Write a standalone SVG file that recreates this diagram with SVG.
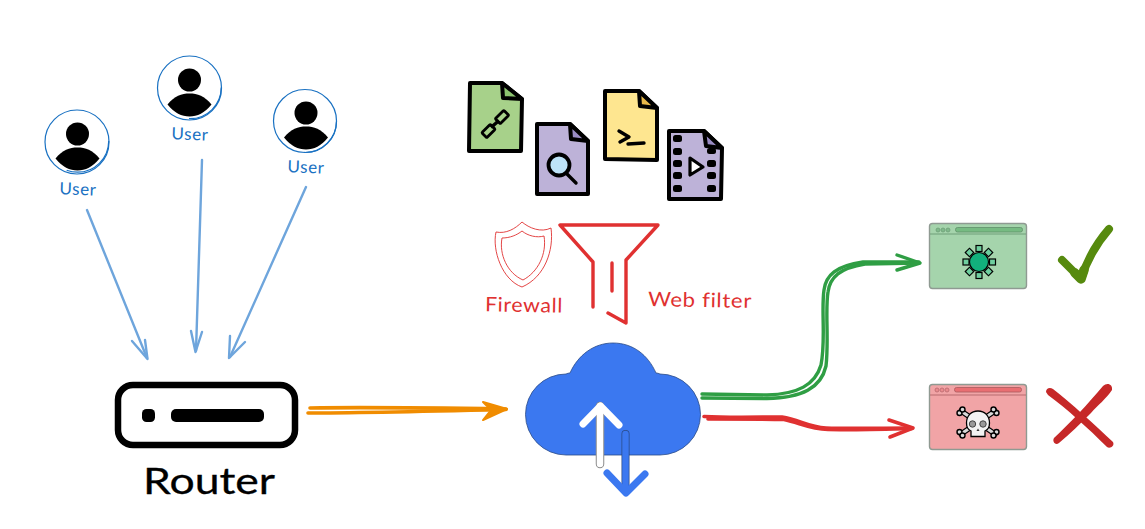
<svg xmlns="http://www.w3.org/2000/svg" width="1145" height="529" viewBox="0 0 1145 529">
<style>
text{font-family:"Lato","Noto Sans",sans-serif;text-anchor:middle}
.ul{fill:#1971c2;font-size:17px;letter-spacing:.6px}
.rl{fill:#e03131;font-size:20px;letter-spacing:.6px}
.ring{fill:none;stroke:#1971c2;stroke-width:1.2}
.k{fill:#000}
.doc{stroke:#000;stroke-width:4;stroke-linejoin:round;stroke-linecap:round}
.ink{fill:none;stroke:#000;stroke-width:3.4;stroke-linecap:round;stroke-linejoin:round}
.blue{fill:none;stroke:#6ea5dc;stroke-width:2.4;stroke-linecap:round;stroke-linejoin:round}
.org{fill:none;stroke:#f08c00;stroke-linecap:round;stroke-linejoin:round}
.grn{fill:none;stroke:#2f9e44;stroke-width:3.4;stroke-linecap:round;stroke-linejoin:round}
.red{fill:none;stroke:#e03131;stroke-width:3.6;stroke-linecap:round;stroke-linejoin:round}
.fun{fill:none;stroke:#e03131;stroke-width:3.4;stroke-linecap:round;stroke-linejoin:round}
.shd{fill:none;stroke:#e03131;stroke-width:.9;stroke-linejoin:round}
.win{stroke:#8f9a92;stroke-width:1.4}
.hole{fill:#000}
.sq{fill:#6fcf9f;stroke:#000;stroke-width:1.2}
.bone{fill:#d9d9d9;stroke:#000;stroke-width:1.4;stroke-linecap:round}
</style>
<defs>
<g id="person">
<circle class="k" cx="0" cy="-8" r="11.5"/>
<path class="k" d="M-22 16.500 C-15 8 -8 5.500 0 5.500 C8 5.500 15 8 22 16.500 C15 25 8 28.500 0 28.500 C-8 28.500 -15 25 -22 16.500Z"/>
</g>
</defs>

<g id="connectors">
<g id="user1-router"><path class="blue" d="M87 210 L147 358"/><path class="blue" d="M132 341 L147.500 359 L145 340"/></g>
<g id="user2-router"><path class="blue" d="M202 160 L196 351"/><path class="blue" d="M191 331 L195.500 352 L202 332"/></g>
<g id="user3-router"><path class="blue" d="M306 187 L230 357"/><path class="blue" d="M230 336 L229 358 L245 342"/></g>
<g id="router-cloud">
<path class="org" stroke-width="3.600" d="M310 408 C370 407 440 408 506 409"/>
<path class="org" stroke-width="3.600" d="M308 413 C345 413 400 412 506 409.500"/>
<path d="M483 402 L507 409 L483 420 L491 410Z" fill="#f08c00" stroke="#f08c00" stroke-width="2" stroke-linejoin="round"/>
</g>
<g id="cloud-allowed">
<path class="grn" d="M702 394 L767 395 C798 394 815 385 821 365 C826 340 821 310 824 290 C826 275 836 266 863 262 L919 262"/>
<path class="grn" d="M702 398 L767 398.500 C802 398 821 388 826 366 C829 340 825 310 828 292 C830 277 840 268 865 264 L919 263"/>
<path class="grn" stroke-width="3.600" d="M897 255 L920 263 L897 270"/>
</g>
<g id="cloud-blocked">
<path class="red" d="M704 416.500 C730 418 760 417 782 417 C800 420 808 427 826 428 C850 429 885 428 912 428"/>
<path class="red" stroke-width="2.800" d="M708 419 C730 419 765 419 784 419.500 C800 423 810 429 828 429.500 C850 430 885 429 912 428.500"/>
<path class="red" d="M889 420 L913 428 L890 437"/>
</g>
</g>

<g id="user1">
<circle class="ring" cx="77" cy="142" r="32"/><circle class="ring" cx="77.500" cy="141" r="31.200" stroke-dasharray="60 140"/>
<use href="#person" x="77.500" y="142"/>
<text class="ul" x="78" y="195" transform="rotate(2 78 189)">User</text>
</g>
<g id="user2">
<circle class="ring" cx="189.500" cy="88" r="32"/><circle class="ring" cx="190" cy="87.500" r="31.200" stroke-dasharray="50 150"/>
<use href="#person" x="189.500" y="88"/>
<text class="ul" x="190" y="140" transform="rotate(2 190 134)">User</text>
</g>
<g id="user3">
<circle class="ring" cx="305" cy="121" r="31.500"/><circle class="ring" cx="305.500" cy="121.500" r="31" stroke-dasharray="50 150"/>
<use href="#person" x="306" y="121"/>
<text class="ul" x="306" y="173" transform="rotate(2 306 167)">User</text>
</g>

<g id="router">
<rect x="118" y="385" width="177" height="60" rx="15" fill="#fff" stroke="#000" stroke-width="6.500"/>
<rect x="142" y="409" width="13" height="13" rx="4.500" fill="#000"/>
<rect x="171" y="409" width="93" height="13" rx="5" fill="#000"/>
<text x="209" y="494" font-size="36" fill="#000" textLength="132" lengthAdjust="spacingAndGlyphs" stroke="#000" stroke-width=".3">Router</text>
</g>

<g id="file-link">
<path class="doc" fill="#a7d18a" d="M470 83 L502 83 L522 99 L521 151 L469 151Z"/>
<path class="doc" fill="#8cc46f" stroke-width="3" d="M502 83 L503 98 L522 99Z"/>
<g fill="none" stroke="#000" stroke-width="2.800" stroke-linejoin="round">
<rect x="482.500" y="127.500" width="12" height="7" rx="1" transform="rotate(-45 488.500 131)"/>
<rect x="496" y="113.500" width="12" height="7" rx="1" transform="rotate(-45 502 117)"/>
<path d="M491 127.500 L499 120.500" stroke-width="3.400"/>
</g>
</g>
<g id="file-search">
<path class="doc" fill="#bdb2d8" d="M537 124 L570 124 L588 141 L588 194 L537 194Z"/>
<path class="doc" fill="#9a8cc4" stroke-width="3" d="M570 124 L571 139 L588 141Z"/>
<path class="ink" stroke-width="5" d="M566 173 L576 183"/>
<circle cx="559" cy="165" r="10.500" fill="#bde3f7" stroke="#000" stroke-width="3.800"/>
</g>
<g id="file-terminal">
<path class="doc" fill="#fee690" d="M605 91 L639 91 L657 108 L657 160 L605 159Z"/>
<path class="doc" fill="#e7b84a" stroke-width="3" d="M639 91 L640 106 L657 108Z"/>
<path class="ink" stroke-width="2.400" d="M619 131 L629 137 L620 142 M628 144 L644 143"/>
</g>
<g id="file-video">
<path class="doc" fill="#bdb2d8" d="M669 131 L704 131 L722 148 L721 199 L669 199Z"/>
<path class="doc" fill="#9a8cc4" stroke-width="3" d="M704 131 L706 146 L722 148Z"/>
<g class="hole">
<rect x="673" y="135" width="9" height="7" rx="2.500"/><rect x="673" y="148" width="9" height="7" rx="2.500"/><rect x="673" y="160" width="9" height="7" rx="2.500"/><rect x="673" y="172" width="9" height="7" rx="2.500"/><rect x="673" y="185" width="9" height="7" rx="2.500"/>
<rect x="707" y="148" width="9" height="6" rx="2.500"/><rect x="707" y="160" width="9" height="7" rx="2.500"/><rect x="707" y="172" width="9" height="7" rx="2.500"/><rect x="707" y="185" width="9" height="7" rx="2.500"/>
</g>
<path d="M690 158 L703 167 L690 175Z" fill="#fff" stroke="#000" stroke-width="3.200" stroke-linejoin="round"/>
</g>

<g id="firewall">
<path class="shd" d="M522 222 C529 228 541 233 551 228 C554 250 545 277 522 287 C502 280 492 250 496 232 C506 234 515 229 522 222Z"/>
<path class="shd" d="M522 231 C528 236 537 238 544 236 C547 254 538 272 523 280 C507 273 499 254 502 238 C510 238 517 235 522 231Z"/>
<text class="rl" x="524" y="312" transform="rotate(1 524 305)" textLength="78" lengthAdjust="spacingAndGlyphs">Firewall</text>
</g>
<g id="web-filter">
<path class="fun" d="M593 307 L593 262 L560 225 L658 225 L626 260 L626 323 L608 313 M612 263 L612 291"/>
<text class="rl" x="700" y="307" transform="rotate(1 700 300)" textLength="104" lengthAdjust="spacingAndGlyphs">Web filter</text>
</g>

<g id="cloud">
<path fill="#3b78f0" stroke="#2a4a86" stroke-width=".8" d="M566 455 A40.500 40.500 0 0 1 566 374 Q568 373 570 373 C578 355 594 343 613 343 C633 343 648 355 656 373 Q658 373 660 374 A40.500 40.500 0 0 1 660 455Z"/>
<path d="M600 406 L600 464" stroke="#8a8a8a" stroke-width="8.500" stroke-linecap="round" fill="none"/>
<path d="M600 406 L600 464" stroke="#fff" stroke-width="6.500" stroke-linecap="round" fill="none"/>
<path d="M583 424 L600.500 406 L619 425" stroke="#fff" stroke-width="7" stroke-linecap="round" stroke-linejoin="round" fill="none"/>
<path d="M625.500 434 L625.500 490" stroke="#2a4a86" stroke-width="8" stroke-linecap="round" fill="none"/>
<path d="M625.500 434 L625.500 490" stroke="#3b78f0" stroke-width="6.500" stroke-linecap="round" fill="none"/>
<path d="M607 473 L626 493 L645 474" stroke="#3b78f0" stroke-width="7" stroke-linecap="round" stroke-linejoin="round" fill="none"/>
</g>

<g id="site-safe">
<rect class="win" x="929.500" y="223.500" width="97" height="65" rx="3" fill="#a5d4ac"/>
<path d="M930 234 L1026 234" stroke="#6f9e78" stroke-width="1"/>
<g fill="#7fb98a" stroke="#6f9e78" stroke-width=".8"><circle cx="938" cy="230" r="2"/><circle cx="943" cy="230" r="2"/><circle cx="948" cy="230" r="2"/></g>
<rect x="955.500" y="227.500" width="67" height="4.500" rx="2" fill="#76bb82" stroke="#5f8f69" stroke-width=".8"/>
<g>
<rect class="sq" x="976" y="245.500" width="6" height="6"/><rect class="sq" x="976" y="272.500" width="6" height="6"/><rect class="sq" x="963" y="259" width="6" height="6"/><rect class="sq" x="989.500" y="259" width="6" height="6"/>
<rect class="sq" x="966.500" y="249.500" width="6" height="6" transform="rotate(45 969.500 252.500)"/><rect class="sq" x="985.500" y="249.500" width="6" height="6" transform="rotate(45 988.500 252.500)"/><rect class="sq" x="966.500" y="268.500" width="6" height="6" transform="rotate(45 969.500 271.500)"/><rect class="sq" x="985.500" y="268.500" width="6" height="6" transform="rotate(45 988.500 271.500)"/>
</g>
<circle cx="979" cy="262" r="9.500" fill="#12b07c" stroke="#000" stroke-width="1.200"/>
</g>
<g id="check" fill="none" stroke="#568a0e" stroke-linecap="round" stroke-linejoin="round">
<path stroke-width="8" d="M1062 260 L1081 279 C1087 260 1095 245 1109 229"/>
<path stroke-width="9.500" d="M1075 273 L1081 279 L1084 270"/>
</g>

<g id="site-blocked">
<rect class="win" x="929.500" y="384.500" width="97" height="65" rx="3" fill="#f1a4a6"/>
<path d="M930 395 L1026 395" stroke="#b76a6e" stroke-width="1"/>
<g fill="#e98b8e" stroke="#b76a6e" stroke-width=".8"><circle cx="937" cy="390" r="2"/><circle cx="942" cy="390" r="2"/><circle cx="947" cy="390" r="2"/></g>
<rect x="954.500" y="387.500" width="67" height="4.500" rx="2" fill="#e96e72" stroke="#a85a5e" stroke-width=".8"/>
<g>
<path stroke="#000" stroke-width="5.500" stroke-linecap="round" d="M961 411 L995 434 M995 411 L961 434"/>
<path stroke="#d9d9d9" stroke-width="3.200" stroke-linecap="round" d="M961 411 L995 434 M995 411 L961 434"/>
<g class="bone"><circle cx="959.500" cy="413" r="2.500"/><circle cx="962.500" cy="409.500" r="2.500"/><circle cx="996.500" cy="413" r="2.500"/><circle cx="993.500" cy="409.500" r="2.500"/><circle cx="959.500" cy="432" r="2.500"/><circle cx="962.500" cy="435.500" r="2.500"/><circle cx="996.500" cy="432" r="2.500"/><circle cx="993.500" cy="435.500" r="2.500"/></g>
<path d="M978 411 C985 411 989.500 416 989.500 423 C989.500 427 987.500 430 985 431 L985 436.500 L971 436.500 L971 431 C968.500 430 966.500 427 966.500 423 C966.500 416 971 411 978 411Z" fill="#f2f2f2" stroke="#000" stroke-width="1.300"/>
<circle cx="972.500" cy="424" r="3.200" fill="#999" stroke="#444"/><circle cx="983" cy="424" r="3.200" fill="#999" stroke="#444"/>
<path d="M978 428.500 L976.500 431 L979.500 431Z" fill="#333"/>
</g>
</g>
<g id="cross" fill="#c62828">
<path d="M1046 392 C1046 388 1050 387 1053 389 C1072 404 1094 424 1113 442 C1115 446 1110 449 1107 447 C1088 428 1067 409 1048 395Z"/>
<path d="M1103 386 C1107 382 1113 384 1112 390 C1106 399 1098 405 1091 413 C1080 424 1070 434 1059 443 C1055 446 1052 441 1054 438 C1070 423 1088 404 1103 386Z"/>
</g>
</svg>
